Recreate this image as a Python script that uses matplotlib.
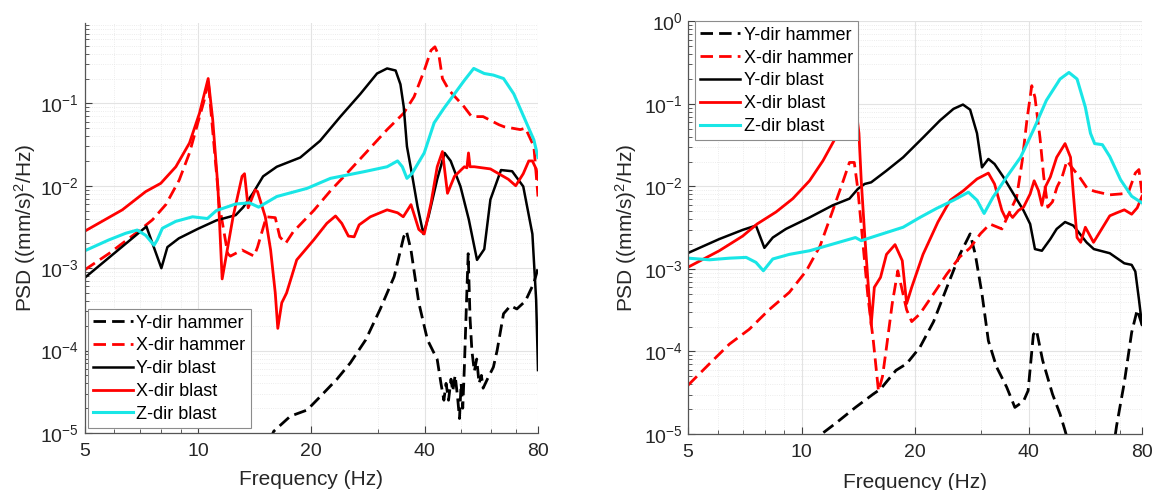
import numpy as np
import matplotlib
matplotlib.use("Agg")
import matplotlib.pyplot as plt
from matplotlib.ticker import FixedLocator, FixedFormatter, LogLocator, NullFormatter, FuncFormatter

plt.rcParams['font.family'] = ['Liberation Sans', 'DejaVu Sans']
plt.rcParams['mathtext.fontset'] = 'custom'
plt.rcParams['mathtext.rm'] = 'Liberation Sans'
plt.rcParams['mathtext.it'] = 'Liberation Sans:italic'

# ---------------- data (left panel) ----------------
L_ybl_f = [5.0, 7.3, 8.0, 8.3, 8.9, 10.0, 11.2, 12.6, 13.2, 14.0, 14.9, 16.2, 18.7, 21.1, 23.9,
           27.0, 29.9, 31.8, 33.5, 34.5, 35.2, 35.9, 37.0, 38.3, 39.7, 41.0, 43.2, 45.2, 46.9,
           49.8, 52.4, 55.1, 57.6, 59.8, 63.8, 68.3, 73.1, 77.3, 79.1, 80.0]
L_ybl_v = [7.6e-4, 3.2e-3, 1.0e-3, 1.8e-3, 2.3e-3, 3.0e-3, 3.8e-3, 4.4e-3, 5.5e-3, 8.1e-3,
           1.3e-2, 1.7e-2, 2.2e-2, 3.5e-2, 6.9e-2, 0.13, 0.23, 0.265, 0.25, 0.17, 0.091, 0.030,
           0.014, 5.6e-3, 2.6e-3, 4.3e-3, 1.2e-2, 2.5e-2, 2.0e-2, 9.8e-3, 3.9e-3, 1.26e-3,
           1.7e-3, 6.8e-3, 1.55e-2, 1.5e-2, 9.8e-3, 2.6e-3, 4.1e-4, 5.8e-5]

L_xbl_f = [5.0, 6.3, 7.27, 7.97, 8.74, 9.5, 10.1, 10.65, 10.95, 11.3, 11.6, 12.4, 13.1, 13.3,
           13.6, 14.2, 14.4, 15.1, 15.6, 16.05, 16.3, 16.7, 17.2, 18.3, 20.3, 22.0, 23.2, 24.1,
           25.1, 26.0, 26.8, 28.7, 31.8, 33.9, 35.1, 36.8, 37.5, 38.6, 39.9, 41.6, 43.2, 44.6,
           46.0, 48.0, 51.0, 51.8, 52.3, 52.8, 54.2, 59.8, 66.7, 69.8, 73.1, 75.6, 77.3, 79.1, 80.0]
L_xbl_v = [2.8e-3, 5.1e-3, 8.5e-3, 1.07e-2, 1.7e-2, 3.3e-2, 7.6e-2, 0.20, 6.3e-2, 9.8e-3,
           7.4e-4, 4.2e-3, 1.3e-2, 1.4e-2, 5.4e-3, 8.9e-3, 8.5e-3, 4.2e-3, 1.66e-3, 5.0e-4,
           1.86e-4, 3.8e-4, 5.0e-4, 1.26e-3, 2.2e-3, 3.5e-3, 4.3e-3, 3.5e-3, 2.45e-3, 2.4e-3,
           3.35e-3, 4.2e-3, 5.1e-3, 4.7e-3, 4.2e-3, 5.9e-3, 4.5e-3, 2.95e-3, 2.6e-3, 6.2e-3,
           1.7e-2, 2.6e-2, 8.1e-3, 1.3e-2, 1.7e-2, 1.65e-2, 2.5e-2, 1.7e-2, 1.7e-2, 1.6e-2,
           1.2e-2, 1.0e-2, 1.4e-2, 2.0e-2, 2.0e-2, 1.6e-2, 1.2e-2]

L_xhm_f = [5.0, 5.8, 6.84, 7.57, 8.22, 8.92, 9.5, 10.0, 10.4, 10.65, 11.4, 12.0, 12.2, 13.1,
           14.1, 14.4, 15.2, 16.05, 16.5, 17.1, 17.9, 20.3, 22.5, 25.0, 27.9, 31.8, 35.2, 37.5,
           39.9, 41.6, 42.6, 43.7, 44.6, 46.4, 50.9, 53.3, 57.2, 63.0, 65.0, 71.8, 74.1, 78.0, 80.0]
L_xhm_v = [9.5e-4, 1.5e-3, 2.65e-3, 3.85e-3, 5.9e-3, 1.17e-2, 2.5e-2, 5.8e-2, 0.11, 0.19,
           5.9e-3, 1.5e-3, 1.4e-3, 1.66e-3, 1.4e-3, 1.8e-3, 4.2e-3, 4.1e-3, 2.4e-3, 2.0e-3,
           2.75e-3, 5.0e-3, 8.7e-3, 1.45e-2, 2.5e-2, 4.8e-2, 7.6e-2, 0.12, 0.25, 0.44, 0.485,
           0.37, 0.20, 0.145, 0.091, 0.069, 0.069, 0.055, 0.052, 0.048, 0.05, 0.03, 7.4e-3]

L_zbl_f = [5.0, 5.8, 6.43, 6.9, 7.27, 7.65, 7.8, 8.05, 8.74, 9.68, 10.6, 11.2, 12.6, 13.7, 14.5,
           16.2, 19.5, 22.5, 27.6, 31.8, 33.9, 34.9, 35.9, 37.0, 39.9, 42.4, 45.0, 48.0, 51.0,
           54.0, 57.6, 60.9, 64.8, 69.0, 73.3, 78.0, 80.0]
L_zbl_v = [1.62e-3, 2.2e-3, 2.65e-3, 2.9e-3, 2.5e-3, 1.9e-3, 2.2e-3, 3.05e-3, 3.7e-3, 4.2e-3,
           4.0e-3, 5.0e-3, 6.0e-3, 6.2e-3, 5.5e-3, 7.4e-3, 9.3e-3, 1.23e-2, 1.48e-2, 1.7e-2,
           2.0e-2, 1.7e-2, 1.23e-2, 1.4e-2, 2.5e-2, 5.8e-2, 8.7e-2, 0.13, 0.19, 0.265, 0.23,
           0.22, 0.20, 0.13, 6.9e-2, 3.6e-2, 2.2e-2]

L_yhm_f = [15.5, 15.9, 17.6, 19.5, 21.1, 23.4, 25.4, 27.9, 30.5, 33.2, 35.2, 35.8, 36.8, 38.6,
           40.7, 43.2, 44.2, 45.0, 45.6, 46.3, 47.0, 47.5, 48.2, 48.9, 49.5, 50.0, 50.5, 51.0,
           51.6, 52.2, 52.8, 53.4, 54.2, 55.0, 55.8, 56.6, 57.2, 58.7, 60.9, 62.3, 64.8, 67.6,
           70.3, 74.1, 78.0, 80.0]
L_yhm_v = [8.0e-6, 1.05e-5, 1.6e-5, 1.9e-5, 2.75e-5, 4.5e-5, 7.1e-5, 1.35e-4, 3.2e-4, 7.9e-4,
           2.4e-3, 2.8e-3, 1.66e-3, 3.8e-4, 1.35e-4, 7.8e-5, 4.0e-5, 2.5e-5, 4.0e-5, 2.5e-5,
           4.5e-5, 3.2e-5, 5.0e-5, 2.8e-5, 1.5e-5, 4.0e-5, 2.0e-5, 6.3e-5, 3.2e-4, 1.5e-3,
           2.5e-4, 1.0e-4, 5.6e-5, 7.9e-5, 4.0e-5, 5.0e-5, 3.5e-5, 4.5e-5, 6.3e-5, 1.0e-4,
           2.8e-4, 3.5e-4, 3.2e-4, 4.0e-4, 6.6e-4, 1.0e-3]

# ---------------- data (right panel) ----------------
R_ybl_f = [5.0, 6.05, 6.98, 7.57, 7.97, 8.39, 9.09, 10.5, 12.1, 13.4, 14.1, 14.7, 15.3, 16.8,
           18.6, 21.0, 23.3, 25.3, 26.8, 28.0, 29.2, 30.1, 31.3, 32.5, 34.3, 36.5, 38.8, 40.4,
           41.6, 43.4, 45.7, 47.5, 50.0, 52.6, 57.0, 59.6, 65.7, 71.8, 75.1, 76.8, 78.5, 80.0]
R_ybl_v = [1.56e-3, 2.3e-3, 2.97e-3, 3.35e-3, 1.8e-3, 2.4e-3, 3.05e-3, 4.2e-3, 5.9e-3, 7.1e-3,
           9.3e-3, 1.07e-2, 1.12e-2, 1.55e-2, 2.25e-2, 3.9e-2, 6.3e-2, 8.7e-2, 9.8e-2, 8.5e-2,
           4.4e-2, 1.7e-2, 2.15e-2, 1.87e-2, 1.3e-2, 8.1e-3, 5.1e-3, 3.5e-3, 1.74e-3, 1.66e-3,
           2.3e-3, 3.05e-3, 3.7e-3, 3.35e-3, 2.1e-3, 1.74e-3, 1.55e-3, 1.17e-3, 1.12e-3, 9.3e-4,
           4.3e-4, 2.1e-4]

R_xbl_f = [5.0, 6.05, 6.98, 7.62, 8.56, 9.48, 10.5, 11.4, 12.2, 12.8, 13.4, 13.9, 14.2, 14.4,
           14.7, 15.0, 15.3, 15.6, 16.2, 16.8, 17.7, 18.5, 19.0, 19.6, 21.0, 23.0, 24.8, 26.9,
           29.2, 31.3, 32.5, 34.0, 34.8, 35.6, 36.3, 37.6, 38.8, 40.4, 41.4, 42.5, 43.4, 44.4,
           45.7, 47.5, 50.0, 51.7, 52.6, 53.8, 55.0, 56.6, 59.5, 65.7, 68.7, 71.8, 75.1, 77.7, 80.0]
R_xbl_v = [1.05e-3, 1.66e-3, 2.5e-3, 3.5e-3, 4.9e-3, 7.1e-3, 1.17e-2, 2.05e-2, 3.6e-2, 5.2e-2,
           7.2e-2, 9.8e-2, 4.4e-2, 1.17e-2, 2.66e-3, 7.2e-4, 2.1e-4, 6.0e-4, 7.9e-4, 1.5e-3,
           1.97e-3, 1.26e-3, 3.8e-4, 6.0e-4, 1.5e-3, 3.7e-3, 6.8e-3, 8.9e-3, 1.23e-2, 1.45e-2,
           1.07e-2, 5.1e-3, 4.1e-3, 4.7e-3, 4.2e-3, 5.1e-3, 5.6e-3, 8.1e-3, 1.17e-2, 8.9e-3,
           5.9e-3, 1.0e-2, 1.3e-2, 2.25e-2, 3.3e-2, 2.25e-2, 8.1e-3, 2.4e-3, 2.1e-3, 3.2e-3,
           2.1e-3, 4.4e-3, 4.8e-3, 5.2e-3, 4.6e-3, 5.5e-3, 7.6e-3]

R_xhm_f = [5.0, 5.7, 6.44, 7.27, 8.2, 9.28, 10.3, 11.2, 12.1, 12.9, 13.4, 13.8, 14.1, 14.5,
           15.0, 15.5, 16.0, 16.4, 16.8, 17.4, 18.0, 19.0, 19.6, 20.6, 22.4, 24.3, 26.3, 28.0,
           29.8, 31.6, 34.0, 35.5, 37.2, 38.5, 39.6, 40.8, 41.6, 42.9, 43.9, 45.0, 46.3, 47.6,
           49.1, 50.6, 52.1, 54.6, 57.4, 60.0, 65.7, 70.2, 73.5, 76.8, 78.5, 80.0]
R_xhm_v = [3.9e-5, 7.1e-5, 1.23e-4, 1.86e-4, 3.2e-4, 5.2e-4, 9.5e-4, 1.9e-3, 5.1e-3, 1.17e-2,
           1.95e-2, 1.95e-2, 9.3e-3, 2.4e-3, 4.6e-4, 1.35e-4, 3.3e-5, 5.0e-5, 1.12e-4, 3.8e-4,
           9.5e-4, 3.2e-4, 2.3e-4, 2.85e-4, 5.0e-4, 8.7e-4, 1.4e-3, 1.8e-3, 2.66e-3, 3.5e-3,
           3.05e-3, 4.7e-3, 7.4e-3, 2.05e-2, 6.3e-2, 0.166, 0.12, 3.9e-2, 1.3e-2, 5.6e-3,
           6.5e-3, 9.8e-3, 1.3e-2, 2.05e-2, 1.7e-2, 1.3e-2, 9.3e-3, 8.7e-3, 7.9e-3, 8.1e-3,
           8.3e-3, 1.45e-2, 1.6e-2, 8.3e-3]

R_zbl_f = [5.0, 5.7, 6.44, 7.13, 7.57, 7.92, 8.39, 9.28, 10.5, 12.1, 13.9, 14.4, 15.7, 18.6,
           20.6, 22.8, 25.3, 27.7, 29.2, 30.5, 32.2, 35.0, 38.1, 41.2, 44.6, 48.5, 51.2, 53.8,
           56.6, 58.4, 59.9, 62.8, 65.7, 70.2, 75.1, 80.0]
R_zbl_v = [1.35e-3, 1.29e-3, 1.35e-3, 1.38e-3, 1.2e-3, 9.5e-4, 1.32e-3, 1.5e-3, 1.66e-3,
           2.0e-3, 2.4e-3, 2.2e-3, 2.5e-3, 3.2e-3, 4.2e-3, 5.4e-3, 6.8e-3, 8.5e-3, 6.8e-3,
           4.7e-3, 7.4e-3, 1.3e-2, 2.25e-2, 4.8e-2, 0.11, 0.2, 0.24, 0.2, 9.1e-2, 4.4e-2,
           3.3e-2, 3.2e-2, 2.3e-2, 1.2e-2, 7.6e-3, 6.3e-3]

R_yhm_f = [10.6, 11.0, 12.4, 13.9, 15.5, 16.2, 17.8, 19.0, 20.6, 22.4, 24.3, 26.3, 28.0, 28.9,
           30.1, 31.3, 32.9, 35.0, 36.8, 38.8, 39.9, 41.2, 42.0, 43.6, 46.3, 48.5, 50.0, 51.0,
           67.5, 68.5, 71.8, 75.1, 77.7, 80.0]
R_yhm_v = [7.1e-6, 9.1e-6, 1.38e-5, 2.1e-5, 3.05e-5, 3.5e-5, 5.9e-5, 7.1e-5, 1.12e-4, 2.3e-4,
           6.0e-4, 1.5e-3, 2.66e-3, 1.5e-3, 5.0e-4, 1.35e-4, 6.5e-5, 3.7e-5, 2.1e-5, 2.5e-5,
           3.35e-5, 1.6e-4, 1.8e-4, 7.8e-5, 3.05e-5, 1.74e-5, 1.1e-5, 7.9e-6, 7.9e-6, 1.26e-5,
           4.2e-5, 1.7e-4, 3.2e-4, 2.1e-4]

x_ticks = [5, 10, 20, 40, 80]
x_labels = ['5', '10', '20', '40', '80']
labels = ['Y-dir hammer', 'X-dir hammer', 'Y-dir blast', 'X-dir blast', 'Z-dir blast']

CYAN = '#19e6e6'
DASH = (0, (4.5, 2.2))


def style_axes(ax, ytop):
    ax.set_xscale('log')
    ax.set_yscale('log')
    ax.set_xlim(5, 80)
    ax.set_ylim(1e-5, ytop)
    ax.xaxis.set_major_locator(FixedLocator(x_ticks))
    ax.xaxis.set_major_formatter(FixedFormatter(x_labels))
    ax.xaxis.set_minor_locator(LogLocator(base=10, subs=np.arange(2, 10), numticks=50))
    ax.xaxis.set_minor_formatter(NullFormatter())
    ax.yaxis.set_major_locator(LogLocator(base=10, numticks=20))
    ax.yaxis.set_major_formatter(FuncFormatter(lambda v, p: r'$10^{%d}$' % round(np.log10(v))))
    ax.yaxis.set_minor_locator(LogLocator(base=10, subs=np.arange(2, 10), numticks=50))
    ax.yaxis.set_minor_formatter(NullFormatter())
    ax.grid(True, which='major', color='#e3e3e3', lw=0.8)
    ax.grid(True, which='minor', color='#e6e6e6', lw=0.6, ls=':')
    ax.set_axisbelow(True)
    for s in ['top', 'right']:
        ax.spines[s].set_visible(False)
    for s in ['left', 'bottom']:
        ax.spines[s].set_color('#555555')
        ax.spines[s].set_linewidth(0.9)
    ax.tick_params(which='both', direction='in', colors='#404040', labelcolor='#262626',
                   labelsize=14)
    ax.tick_params(which='major', length=5, width=0.8)
    ax.tick_params(which='minor', length=3, width=0.6)
    ax.tick_params(axis='x', pad=7)
    ax.tick_params(axis='y', pad=4)
    ax.set_xlabel('Frequency (Hz)', fontsize=15, color='#262626')
    ax.set_ylabel(r'PSD ((mm/s)$^2$/Hz)', fontsize=15, color='#262626')


def draw(ax, yhm, xhm, ybl, xbl, zbl):
    ax.plot(*yhm, color='black', lw=2.0, ls=DASH, label=labels[0])
    ax.plot(*xhm, color='red', lw=2.0, ls=DASH, label=labels[1])
    ax.plot(*ybl, color='black', lw=1.8, label=labels[2])
    ax.plot(*xbl, color='red', lw=2.0, label=labels[3])
    ax.plot(*zbl, color=CYAN, lw=2.2, label=labels[4])


fig = plt.figure(figsize=(11.56, 4.9), dpi=100)
ax1 = fig.add_axes([0.0731, 0.1163, 0.3923, 0.8373])
ax2 = fig.add_axes([0.5952, 0.1143, 0.3927, 0.8422])

style_axes(ax1, 0.95)
style_axes(ax2, 1.0)

draw(ax1, (L_yhm_f, L_yhm_v), (L_xhm_f, L_xhm_v), (L_ybl_f, L_ybl_v),
     (L_xbl_f, L_xbl_v), (L_zbl_f, L_zbl_v))
draw(ax2, (R_yhm_f, R_yhm_v), (R_xhm_f, R_xhm_v), (R_ybl_f, R_ybl_v),
     (R_xbl_f, R_xbl_v), (R_zbl_f, R_zbl_v))

leg_kw = dict(fontsize=13, handlelength=2.2, handletextpad=0.2, borderpad=0.3,
              labelspacing=0.32, borderaxespad=0, fancybox=False, framealpha=1,
              edgecolor='#8c8c8c')
lg1 = ax1.legend(loc='lower left', bbox_to_anchor=(0.007, 0.012), **leg_kw)
lg2 = ax2.legend(loc='upper left', bbox_to_anchor=(0.015, 1.0), **leg_kw)
for lg in (lg1, lg2):
    lg.get_frame().set_linewidth(0.8)

ax1.xaxis.set_label_coords(0.5, -0.09)
ax2.xaxis.set_label_coords(0.5, -0.095)
ax1.yaxis.set_label_coords(-0.103, 0.5)
ax2.yaxis.set_label_coords(-0.107, 0.5)

fig.savefig('out.png', dpi=100, facecolor='white')
